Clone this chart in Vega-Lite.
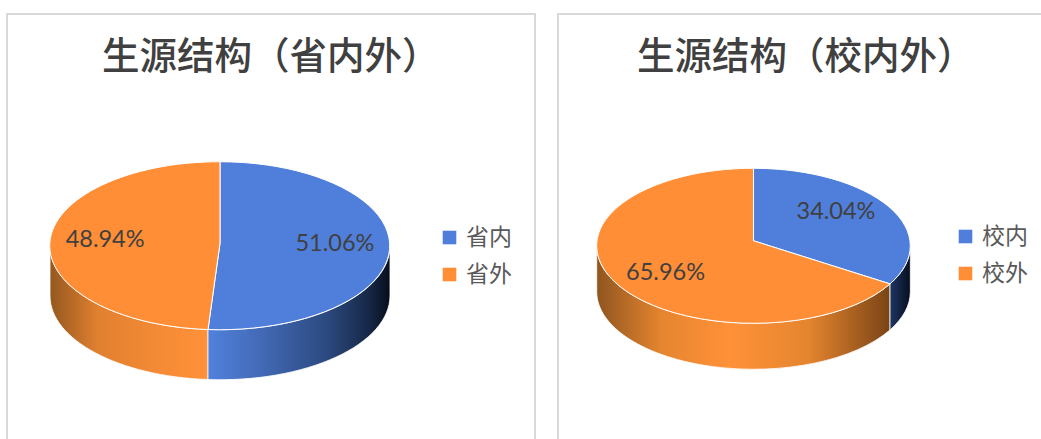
{
"$schema":"https://vega.github.io/schema/vega-lite/v6.json",
"background":"white",
"padding":{"left":6,"top":13,"right":0,"bottom":0},
"autosize":{"type":"pad","contains":"padding"},
"spacing":21,
"config":{"font":"Noto Sans CJK SC","view":{"stroke":"#d9d9d9","strokeWidth":2}},
"resolve":{"scale":{"color":"independent"},"legend":{"color":"independent"}},
"hconcat":[
{"width":528,"height":430,
"title":{"text":"生源结构（省内外）","fontSize":37.5,"fontWeight":500,"color":"#404040","anchor":"start","frame":"group","dx":95,"baseline":"alphabetic","offset":-92},
"data":{"values":[{"category":"省内","share":0.5106},{"category":"省外","share":0.4894}]},
"encoding":{
"x":{"datum":0,"type":"quantitative","scale":{"domain":[-1.253,1.853],"nice":false,"zero":false},"axis":null},
"y":{"datum":0,"type":"quantitative","scale":{"domain":[-2.36,2.758],"nice":false,"zero":false},"axis":null}},
"layer":[
{"transform":[{"filter":"datum.category==='省外'"}],
"mark":{"type":"point","size":4,"filled":true,"opacity":1,"stroke":"#ffffff","strokeWidth":0.8,
"shape":"M-170,0 A170,84 0 0 0 -12,83.8 L-12,133.8 A170,84 0 0 1 -170,50 Z",
"fill":{"gradient":"linear","x1":0,"y1":0,"x2":1,"y2":0,"stops":[{"offset":0,"color":"#94581f"},{"offset":0.3,"color":"#e08030"},{"offset":0.75,"color":"#f78c36"},{"offset":1,"color":"#ff9138"}]}}},
{"transform":[{"filter":"datum.category==='省内'"}],
"mark":{"type":"point","size":4,"filled":true,"opacity":1,"stroke":"#ffffff","strokeWidth":0.8,
"shape":"M-12,83.8 A170,84 0 0 0 170,0 L170,50 A170,84 0 0 1 -12,133.8 Z",
"fill":{"gradient":"linear","x1":0,"y1":0,"x2":1,"y2":0,"stops":[{"offset":0,"color":"#5181dc"},{"offset":0.3,"color":"#4269b5"},{"offset":0.65,"color":"#2c4a80"},{"offset":0.88,"color":"#172848"},{"offset":1,"color":"#070e1c"}]}}},
{"transform":[{"filter":"datum.category==='省内'"}],
"mark":{"type":"point","size":4,"filled":true,"opacity":1,"stroke":"#ffffff","strokeWidth":1,"shape":"M0,-2.5 L0,-84 A170,84 0 1 1 -12,83.8 Z"},
"encoding":{"color":{"field":"category","type":"nominal","scale":{"domain":["省内","省外"],"range":["#4f7fda","#ff8e36"]},
"legend":{"orient":"none","legendX":431,"legendY":212,"title":null,"symbolType":"square","symbolSize":185,"symbolStrokeWidth":0,"symbolOpacity":1,"labelFontSize":23,"labelColor":"#595959","labelOffset":5,"rowPadding":13,"padding":0}}}},
{"transform":[{"filter":"datum.category==='省外'"}],
"mark":{"type":"point","size":4,"filled":true,"opacity":1,"stroke":"#ffffff","strokeWidth":1,"shape":"M0,-2.5 L-12,83.8 A170,84 0 0 1 0,-84 Z"},
"encoding":{"color":{"field":"category","type":"nominal","scale":{"domain":["省内","省外"],"range":["#4f7fda","#ff8e36"]},
"legend":{"orient":"none","legendX":431,"legendY":212,"title":null,"symbolType":"square","symbolSize":185,"symbolStrokeWidth":0,"symbolOpacity":1,"labelFontSize":23,"labelColor":"#595959","labelOffset":5,"rowPadding":13,"padding":0}}}},
{"transform":[{"filter":"datum.category==='省内'"}],
"mark":{"type":"text","font":"Lato","fontSize":23.5,"color":"#404040","align":"center","baseline":"middle"},
"encoding":{"text":{"field":"share","type":"quantitative","format":".2%"},
"x":{"datum":0.676,"type":"quantitative","scale":{"domain":[-1.253,1.853],"nice":false,"zero":false},"axis":null},
"y":{"datum":0.026,"type":"quantitative","scale":{"domain":[-2.36,2.758],"nice":false,"zero":false},"axis":null}}},
{"transform":[{"filter":"datum.category==='省外'"}],
"mark":{"type":"text","font":"Lato","fontSize":23.5,"color":"#404040","align":"center","baseline":"middle"},
"encoding":{"text":{"field":"share","type":"quantitative","format":".2%"},
"x":{"datum":-0.676,"type":"quantitative","scale":{"domain":[-1.253,1.853],"nice":false,"zero":false},"axis":null},
"y":{"datum":0.068,"type":"quantitative","scale":{"domain":[-2.36,2.758],"nice":false,"zero":false},"axis":null}}}
]},
{"width":490,"height":430,
"title":{"text":"生源结构（校内外）","fontSize":37.5,"fontWeight":500,"color":"#404040","anchor":"start","frame":"group","dx":79,"baseline":"alphabetic","offset":-92},
"data":{"values":[{"category":"校内","share":0.3404},{"category":"校外","share":0.6596}]},
"encoding":{
"x":{"datum":0,"type":"quantitative","scale":{"domain":[-1.247,1.878],"nice":false,"zero":false},"axis":null},
"y":{"datum":0,"type":"quantitative","scale":{"domain":[-2.557,2.99],"nice":false,"zero":false},"axis":null}},
"layer":[
{"transform":[{"filter":"datum.category==='校外'"}],
"mark":{"type":"point","size":4,"filled":true,"opacity":1,"stroke":"#ffffff","strokeWidth":0.8,
"shape":"M-156.8,0 A156.8,77.5 0 0 0 136.5,38.1 L136.5,84.1 A156.8,77.5 0 0 1 -156.8,46 Z",
"fill":{"gradient":"linear","x1":0,"y1":0,"x2":1,"y2":0,"stops":[{"offset":0,"color":"#8f5520"},{"offset":0.22,"color":"#e5852f"},{"offset":0.45,"color":"#ff9138"},{"offset":0.72,"color":"#e5852f"},{"offset":1,"color":"#7a4415"}]}}},
{"transform":[{"filter":"datum.category==='校内'"}],
"mark":{"type":"point","size":4,"filled":true,"opacity":1,"stroke":"#ffffff","strokeWidth":0.8,
"shape":"M156.8,0 L156.8,46 A156.8,77.5 0 0 1 136.5,84.1 L136.5,38.1 A156.8,77.5 0 0 0 156.8,0 Z",
"fill":{"gradient":"linear","x1":0,"y1":0,"x2":1,"y2":0,"stops":[{"offset":0,"color":"#1d3665"},{"offset":1,"color":"#070e1c"}]}}},
{"transform":[{"filter":"datum.category==='校内'"}],
"mark":{"type":"point","size":4,"filled":true,"opacity":1,"stroke":"#ffffff","strokeWidth":1,"shape":"M0,-5 L0,-77.5 A156.8,77.5 0 0 1 136.5,38.1 Z"},
"encoding":{"color":{"field":"category","type":"nominal","scale":{"domain":["校内","校外"],"range":["#4f7fda","#ff8e36"]},
"legend":{"orient":"none","legendX":396,"legendY":211,"title":null,"symbolType":"square","symbolSize":185,"symbolStrokeWidth":0,"symbolOpacity":1,"labelFontSize":23,"labelColor":"#595959","labelOffset":5,"rowPadding":13,"padding":0}}}},
{"transform":[{"filter":"datum.category==='校外'"}],
"mark":{"type":"point","size":4,"filled":true,"opacity":1,"stroke":"#ffffff","strokeWidth":1,"shape":"M0,-5 L136.5,38.1 A156.8,77.5 0 1 1 0,-77.5 Z"},
"encoding":{"color":{"field":"category","type":"nominal","scale":{"domain":["校内","校外"],"range":["#4f7fda","#ff8e36"]},
"legend":{"orient":"none","legendX":396,"legendY":211,"title":null,"symbolType":"square","symbolSize":185,"symbolStrokeWidth":0,"symbolOpacity":1,"labelFontSize":23,"labelColor":"#595959","labelOffset":5,"rowPadding":13,"padding":0}}}},
{"transform":[{"filter":"datum.category==='校内'"}],
"mark":{"type":"text","font":"Lato","fontSize":23.5,"color":"#404040","align":"center","baseline":"middle"},
"encoding":{"text":{"field":"share","type":"quantitative","format":".2%"},
"x":{"datum":0.526,"type":"quantitative","scale":{"domain":[-1.247,1.878],"nice":false,"zero":false},"axis":null},
"y":{"datum":0.44,"type":"quantitative","scale":{"domain":[-2.557,2.99],"nice":false,"zero":false},"axis":null}}},
{"transform":[{"filter":"datum.category==='校外'"}],
"mark":{"type":"text","font":"Lato","fontSize":23.5,"color":"#404040","align":"center","baseline":"middle"},
"encoding":{"text":{"field":"share","type":"quantitative","format":".2%"},
"x":{"datum":-0.561,"type":"quantitative","scale":{"domain":[-1.247,1.878],"nice":false,"zero":false},"axis":null},
"y":{"datum":-0.351,"type":"quantitative","scale":{"domain":[-2.557,2.99],"nice":false,"zero":false},"axis":null}}}
]}
]}
